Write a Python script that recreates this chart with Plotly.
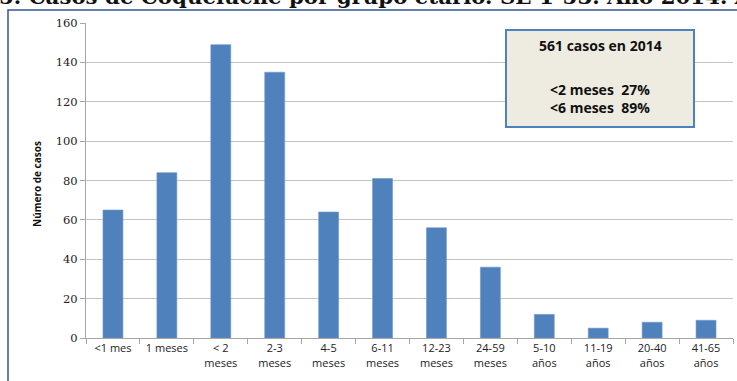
import plotly.graph_objects as go

# Casos por grupo etario
grupos = ["<1 mes", "1 meses", "< 2<br>meses", "2-3<br>meses", "4-5<br>meses",
          "6-11<br>meses", "12-23<br>meses", "24-59<br>meses", "5-10<br>años",
          "11-19<br>años", "20-40<br>años", "41-65<br>años"]
casos = [65, 84, 149, 135, 64, 81, 56, 36, 12, 5, 8, 9]
y_ticks = [0, 20, 40, 60, 80, 100, 120, 140, 160]

W, H = 737, 381
L, R, T, B = 86, 4, 23, 43
pw, ph = W - L - R, H - T - B


def px(x):
    return (x - L) / pw


def py(y):
    return (H - B - y) / ph


fig = go.Figure(go.Bar(
    x=grupos, y=casos, marker_color="#4F81BD",
    marker_line=dict(color="#6F97C9", width=0.6),
))

fig.update_layout(
    width=W, height=H, margin=dict(l=L, r=R, t=T, b=B),
    paper_bgcolor="white", plot_bgcolor="white",
    bargap=0.63, showlegend=False,
    font=dict(family="Open Sans, sans-serif", color="#222"),
)

fig.update_xaxes(
    type="category", showline=True, linecolor="#A6A6A6", linewidth=1,
    ticks="outside", tickson="boundaries", ticklen=5, tickcolor="#A6A6A6",
    tickfont=dict(size=11, family="Open Sans, sans-serif", color="#222"),
    showgrid=False,
)
fig.update_yaxes(
    range=[0, 160], tickvals=y_ticks, showline=True, linecolor="#A6A6A6",
    linewidth=1, ticks="outside", ticklen=5, tickcolor="#A6A6A6",
    showgrid=True, gridcolor="#C4C4C4", gridwidth=1, zeroline=False,
    tickfont=dict(size=11.5, family="DejaVu Serif, serif", color="#222"),
)

# marco del gráfico
fig.add_shape(type="path", xref="paper", yref="paper",
              path=f"M {px(8)} {py(H + 5)} L {px(8)} {py(10)} L {px(W + 5)} {py(10)}",
              line=dict(color="#2F5597", width=1.5))

# título (recortado en el borde superior)
fig.add_annotation(
    xref="paper", yref="paper", x=px(-3), y=py(11), xanchor="left", yanchor="bottom",
    text="<b>5. Casos de Coqueluche por grupo etario. SE 1-53. Año 2014. Argentina</b>",
    showarrow=False, font=dict(family="DejaVu Serif, serif", size=21.3, color="#111"),
)

# título del eje Y
fig.add_annotation(
    xref="paper", yref="paper", x=px(37), y=py(184), xanchor="center", yanchor="middle",
    text="<b>Número de casos</b>", textangle=-90, showarrow=False,
    font=dict(family="Open Sans, sans-serif", size=10, color="#111"),
)

# recuadro de resumen
fig.add_shape(type="rect", xref="paper", yref="paper",
              x0=px(506), x1=px(694), y0=py(127), y1=py(30),
              fillcolor="#EEECE1", line=dict(color="#4F81BD", width=2))
fig.add_annotation(
    xref="paper", yref="paper", x=px(600), y=py(46), xanchor="center", yanchor="middle",
    text="<b>561 casos en 2014</b>", showarrow=False,
    font=dict(family="Open Sans, sans-serif", size=14, color="#111"),
)
fig.add_annotation(
    xref="paper", yref="paper", x=px(600), y=py(98), xanchor="center", yanchor="middle",
    text="<b><2 meses\u00a0\u00a027%<br><6 meses\u00a0\u00a089%</b>", showarrow=False,
    font=dict(family="Open Sans, sans-serif", size=14, color="#111"),
)

fig.write_html("out.html")
